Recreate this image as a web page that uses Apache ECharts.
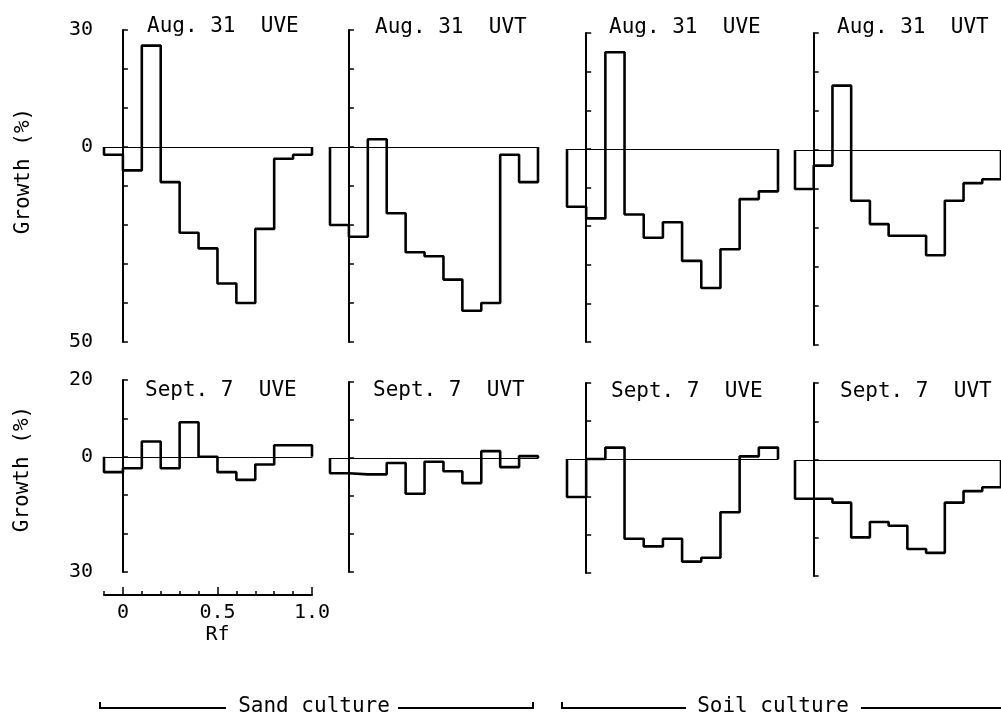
<!DOCTYPE html>
<html>
<head>
<meta charset="utf-8">
<script src="https://cdn.jsdelivr.net/npm/echarts@6/dist/echarts.min.js"></script>
<style>
  html, body { margin: 0; padding: 0; background: #fff; }
  #main { width: 1001px; height: 718px; }
</style>
</head>
<body>
<div id="main"></div>
<script>
// Rf bin edges (11 bins of 0.1 from -0.1 to 1.0)
var rfEdges = [-0.1, 0, 0.1, 0.2, 0.3, 0.4, 0.5, 0.6, 0.7, 0.8, 0.9, 1.0];
var rfTicks = [0, 0.5, 1.0];

// growth (%) per bin
var sandAug31UVE = [-2, -6, 26, -9, -22, -26, -35, -40, -21, -3, -2];
var sandAug31UVT = [-20, -23, 2, -17, -27, -28, -34, -42, -40, -2, -9];
var soilAug31UVE = [-15, -18, 25, -17, -23, -19, -29, -36, -26, -13, -11];
var soilAug31UVT = [-10, -4, 16.5, -13, -19, -22, -22, -27, -13, -8.5, -7.5];
var sandSept7UVE = [-4, -3, 4, -3, 9, 0, -4, -6, -2, 3, 3];
var sandSept7UVT = [-4, -4.3, -4.3, -1.3, -9.4, -1, -3.5, -6.6, 1.8, -2.4, 0.5];
var soilSept7UVE = [-10, 0, 3, -21, -23, -21, -27, -26, -14, 0.7, 3];
var soilSept7UVT = [-10, -10, -11, -20, -16, -17, -23, -24, -11, -8, -7];

var panelTitles = ['Aug. 31  UVE', 'Aug. 31  UVT', 'Aug. 31  UVE', 'Aug. 31  UVT',
                   'Sept. 7  UVE', 'Sept. 7  UVT', 'Sept. 7  UVE', 'Sept. 7  UVT'];
var panelValues = [sandAug31UVE, sandAug31UVT, soilAug31UVE, soilAug31UVT,
                   sandSept7UVE, sandSept7UVT, soilSept7UVE, soilSept7UVT];
var augRange = [-50, 30];
var septRange = [-30, 20];
var augLabels = [30, 0, -50];
var septLabels = [20, 0, -30];

// panel boxes in pixels: left, top, width, height
var boxes = [
  [104, 30, 208, 312], [330, 30, 208, 312], [567, 33, 211, 309], [795, 33, 209, 312],
  [104, 380, 208, 192], [330, 382, 208, 190], [567, 383, 211, 190], [795, 383, 209, 193]
];
var titlePos = [[147, 27], [375, 28], [609, 28], [837, 28], [145, 391], [373, 391], [611, 392], [840, 392]];

var monoFont = '"DejaVu Sans Mono", monospace';

function stepData(vals) {
  // outline of the histogram, closed to zero at both ends
  var pts = [[rfEdges[0], 0]];
  for (var i = 0; i < vals.length; i++) {
    pts.push([rfEdges[i], vals[i]]);
  }
  pts.push([rfEdges[rfEdges.length - 1], 0]);
  return pts;
}

function labelFormatter(lab) {
  return function (v) { return lab.indexOf(v) >= 0 ? String(Math.abs(v)) : ''; };
}

var grids = [], xAxes = [], yAxes = [], series = [], graphics = [];

for (var i = 0; i < 8; i++) {
  var b = boxes[i];
  var isAug = i < 4;
  var range = isAug ? augRange : septRange;
  var labels = isAug ? augLabels : septLabels;
  var showLabels = (i === 0 || i === 4);
  grids.push({ left: b[0], top: b[1], width: b[2], height: b[3] });
  xAxes.push({
    type: 'value', gridIndex: i, min: rfEdges[0], max: rfEdges[rfEdges.length - 1],
    axisLine: { show: true, onZero: true, lineStyle: { color: '#000', width: 1.2 } },
    axisTick: { show: false }, axisLabel: { show: false }, splitLine: { show: false }
  });
  yAxes.push({
    type: 'value', gridIndex: i, min: range[0], max: range[1], interval: 10,
    axisLine: { show: true, onZero: true, lineStyle: { color: '#000', width: 2 } },
    axisTick: { show: true, inside: true, length: 5, lineStyle: { color: '#000', width: 1.5 } },
    splitLine: { show: false },
    axisLabel: {
      show: showLabels, margin: 11, color: '#000', fontSize: 20, fontFamily: monoFont,
      formatter: labelFormatter(labels)
    }
  });
  series.push({
    type: 'line', xAxisIndex: i, yAxisIndex: i, step: 'end',
    data: stepData(panelValues[i]), showSymbol: false, symbol: 'none',
    lineStyle: { color: '#000', width: 2.6 }, z: 5
  });
  graphics.push({
    type: 'text', x: titlePos[i][0], y: titlePos[i][1],
    style: { text: panelTitles[i], font: '21px ' + monoFont, fill: '#000', align: 'left', verticalAlign: 'middle' }
  });
}

// Rf axis under the lower-left panel: small ticks every 0.1
grids.push({ left: 104, top: 545, width: 208, height: 50 });
xAxes.push({
  type: 'value', gridIndex: 8, min: rfEdges[0], max: rfEdges[rfEdges.length - 1], interval: 0.1,
  position: 'bottom', axisLine: { show: true, onZero: false, lineStyle: { color: '#000', width: 2 } },
  axisTick: { show: true, inside: true, length: 4, lineStyle: { color: '#000', width: 1.5 } },
  axisLabel: { show: false }, splitLine: { show: false }
});
yAxes.push({ type: 'value', gridIndex: 8, show: false });

// major ticks and labels at 0, 0.5, 1.0
grids.push({ left: 123, top: 545, width: 189, height: 50 });
xAxes.push({
  type: 'value', gridIndex: 9, min: 0, max: 1, interval: 0.5, position: 'bottom',
  axisLine: { show: false, onZero: false },
  axisTick: { show: true, inside: true, length: 8, lineStyle: { color: '#000', width: 1.5 } },
  axisLabel: {
    show: true, margin: 8, color: '#000', fontSize: 20, fontFamily: monoFont,
    formatter: function (v) { return rfTicks.indexOf(v) >= 0 ? v.toFixed(v === 0 ? 0 : 1) : ''; }
  },
  splitLine: { show: false },
  name: 'Rf', nameLocation: 'middle', nameGap: 30,
  nameTextStyle: { color: '#000', fontSize: 20, fontFamily: monoFont }
});
yAxes.push({ type: 'value', gridIndex: 9, show: false });

// y titles
graphics.push({
  type: 'text', x: 24, y: 171, rotation: Math.PI / 2,
  style: { text: 'Growth (%)', font: '21px ' + monoFont, fill: '#000', align: 'center', verticalAlign: 'middle' }
});
graphics.push({
  type: 'text', x: 23, y: 469, rotation: Math.PI / 2,
  style: { text: 'Growth (%)', font: '21px ' + monoFont, fill: '#000', align: 'center', verticalAlign: 'middle' }
});

// culture brackets
var bracketStyle = { stroke: '#000', lineWidth: 2, fill: null };
graphics.push({ type: 'polyline', shape: { points: [[100, 702], [100, 708], [226, 708]] }, style: bracketStyle });
graphics.push({ type: 'polyline', shape: { points: [[398, 708], [533, 708], [533, 702]] }, style: bracketStyle });
graphics.push({ type: 'polyline', shape: { points: [[562, 702], [562, 708], [686, 708]] }, style: bracketStyle });
graphics.push({ type: 'polyline', shape: { points: [[861, 708], [1001, 708]] }, style: bracketStyle });
graphics.push({
  type: 'text', x: 314, y: 707,
  style: { text: 'Sand culture', font: '21px ' + monoFont, fill: '#000', align: 'center', verticalAlign: 'middle' }
});
graphics.push({
  type: 'text', x: 773, y: 707,
  style: { text: 'Soil culture', font: '21px ' + monoFont, fill: '#000', align: 'center', verticalAlign: 'middle' }
});

var myChart = echarts.init(document.getElementById('main'));
var option = {
  backgroundColor: '#fff',
  animation: false,
  grid: grids,
  xAxis: xAxes,
  yAxis: yAxes,
  series: series,
  graphic: graphics
};
myChart.setOption(option);
</script>
</body>
</html>
